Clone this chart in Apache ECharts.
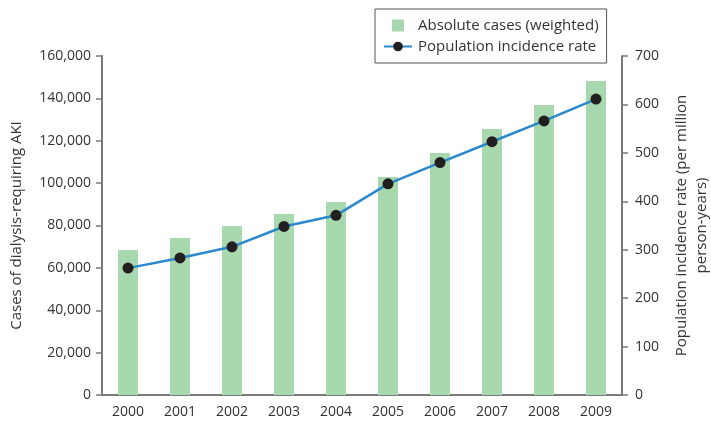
<!DOCTYPE html>
<html>
<head>
<meta charset="utf-8">
<script src="https://cdn.jsdelivr.net/npm/echarts@6/dist/echarts.min.js"></script>
<style>
  html, body { margin: 0; padding: 0; background: #fff; }
  #chart { width: 711px; height: 423px; }
</style>
</head>
<body>
<div id="chart"></div>
<script>
// Dialysis-requiring AKI, 2000–2009
const years = ['2000', '2001', '2002', '2003', '2004', '2005', '2006', '2007', '2008', '2009'];
// Absolute cases (weighted), left axis
const absoluteCases = [68400, 74100, 79800, 85400, 91100, 102900, 114200, 125500, 136900, 148200];
// Population incidence rate per million person-years, right axis
const incidenceRate = [262, 283, 306, 348, 371, 436, 480, 523, 566, 611];

const fontFamily = '"Open Sans", "Noto Sans", sans-serif';
const textColor = '#333';
const axisColor = '#7a7a7a';

const chart = echarts.init(document.getElementById('chart'));
chart.setOption({
  animation: false,
  textStyle: { fontFamily: fontFamily, color: textColor },
  grid: { left: 102, right: 89, top: 56, bottom: 28, outerBoundsMode: 'none', containLabel: false },
  legend: {
    orient: 'vertical',
    left: 375,
    top: 9,
    padding: [9, 8, 9, 8],
    itemGap: 6,
    itemWidth: 28,
    itemHeight: 12,
    borderColor: '#555',
    borderWidth: 1,
    borderRadius: 0,
    textStyle: { fontFamily: fontFamily, fontSize: 15, color: textColor, padding: [0, 0, 0, 1] },
    data: [
      { name: 'Absolute cases (weighted)', icon: 'path://M0,0 L0,0 M28,12 L28,12 M8,0 L20,0 L20,12 L8,12 Z' },
      { name: 'Population incidence rate' }
    ]
  },
  xAxis: {
    type: 'category',
    data: years,
    axisLine: { lineStyle: { color: axisColor, width: 2 } },
    axisTick: { alignWithLabel: true, length: 6, lineStyle: { color: axisColor, width: 1.5 } },
    axisLabel: { fontSize: 14, color: textColor, margin: 10, fontFamily: fontFamily }
  },
  yAxis: [
    {
      type: 'value',
      min: 0,
      max: 160000,
      interval: 20000,
      name: 'Cases of dialysis-requiring AKI',
      nameLocation: 'middle',
      nameGap: 78,
      nameTextStyle: { fontSize: 15, color: textColor, fontFamily: fontFamily },
      axisLine: { show: true, lineStyle: { color: axisColor, width: 2 } },
      axisTick: { show: true, length: 6, lineStyle: { color: axisColor, width: 1.5 } },
      splitLine: { show: false },
      axisLabel: {
        fontSize: 14, color: textColor, margin: 11, fontFamily: fontFamily,
        formatter: v => v.toLocaleString('en-US')
      }
    },
    {
      type: 'value',
      min: 0,
      max: 700,
      interval: 100,
      position: 'right',
      name: 'Population incidence rate (per million\nperson-years)',
      nameLocation: 'middle',
      nameGap: 50,
      nameRotate: 90,
      nameTextStyle: { fontSize: 15, color: textColor, fontFamily: fontFamily, lineHeight: 20 },
      axisLine: { show: true, lineStyle: { color: axisColor, width: 2 } },
      axisTick: { show: true, length: 6, lineStyle: { color: axisColor, width: 1.5 } },
      splitLine: { show: false },
      axisLabel: { fontSize: 14, color: textColor, margin: 13, fontFamily: fontFamily }
    }
  ],
  series: [
    {
      name: 'Absolute cases (weighted)',
      type: 'bar',
      yAxisIndex: 0,
      data: absoluteCases,
      barWidth: 20,
      itemStyle: { color: '#a8d8ad' }
    },
    {
      name: 'Population incidence rate',
      type: 'line',
      yAxisIndex: 1,
      data: incidenceRate,
      symbol: 'circle',
      symbolSize: 11,
      lineStyle: { color: '#2b88cc', width: 2.5 },
      itemStyle: { color: '#231f20' }
    }
  ]
});
</script>
</body>
</html>
